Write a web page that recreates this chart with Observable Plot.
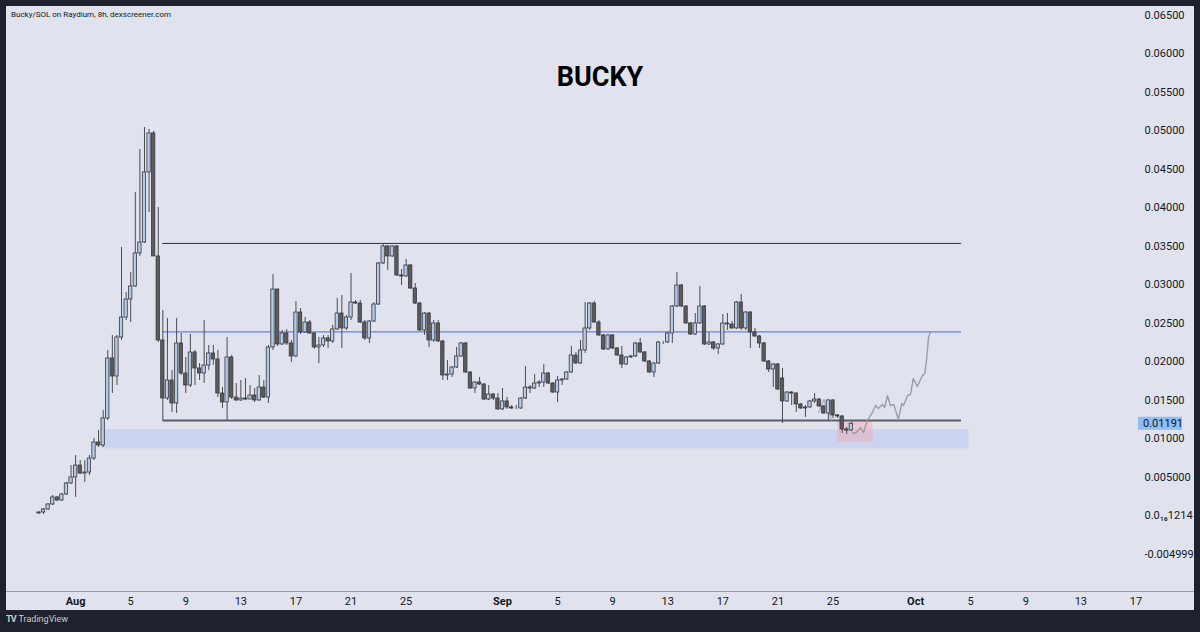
<!DOCTYPE html>
<html><head><meta charset="utf-8">
<script src="https://cdn.jsdelivr.net/npm/d3@7"></script>
<script src="https://cdn.jsdelivr.net/npm/@observablehq/plot@0.6"></script>
<style>
html,body{margin:0;padding:0;background:#1e222d;width:1200px;height:632px;overflow:hidden;font-family:Roboto,"Liberation Sans",Arial,sans-serif;}
#panel{position:absolute;left:6px;top:6px;width:1188px;height:604px;background:#e0e3ee;}
#chart{position:absolute;left:0;top:0;}
#src{position:absolute;left:11px;top:11px;font-size:8px;line-height:1;color:#131722;white-space:nowrap;}
#title{position:absolute;left:6px;width:1188px;top:64px;text-align:center;font-size:27px;line-height:1;font-weight:bold;color:#000;}
#tv{position:absolute;left:6px;top:615px;font-size:9px;line-height:1;color:#c9ccd4;white-space:nowrap;}
#tv b{letter-spacing:-1px;margin-right:3px;}
</style></head><body>
<div id="panel"><div id="chart"></div></div>
<div id="src">Bucky/SOL on Raydium, 8h, dexscreener.com</div>
<div id="title">BUCKY</div>
<div id="tv"><b>TV</b>TradingView</div>
<script>
// Prices below are in thousandths of SOL (e.g. 11.91 = 0.01191)
const PRICE_UNIT = 0.001;
const firstCandle = "2024-07-29T08:00:00Z";
const candleHours = 8;

const open = [0.26,0.39,0.78,1.43,2.34,1.95,2.73,4.16,4.94,6.49,
5.45,5.58,7.40,9.48,9.09,12.60,20.39,18.05,23.12,25.71,
28.05,29.74,34.03,35.45,44.55,49.61,33.64,22.73,15.19,17.53,
14.55,22.34,18.44,16.88,21.17,19.09,18.44,19.48,21.04,20.26,
15.84,14.68,20.52,15.32,14.94,15.19,15.06,15.58,14.94,16.62,
15.32,21.82,29.35,22.21,23.64,22.34,20.65,26.36,23.77,25.06,
23.64,21.82,22.08,22.99,22.60,24.16,26.23,24.29,25.71,27.66,
27.53,25.06,22.99,25.19,27.40,32.73,34.94,33.64,34.94,31.17,
31.04,32.47,29.48,27.53,24.03,26.23,22.73,24.94,22.60,18.18,
18.31,19.22,20.65,22.34,18.57,16.49,17.27,17.01,15.06,15.71,
15.19,13.77,14.81,14.03,13.90,13.90,15.19,16.62,16.49,17.14,
17.27,18.44,17.14,15.97,17.53,17.66,18.57,20.78,19.74,21.43,
24.29,27.53,25.06,23.38,21.56,23.38,21.69,20.78,19.61,20.52,
20.65,22.34,21.17,20.00,18.57,19.74,22.47,22.47,23.64,27.14,
29.87,27.14,24.94,23.51,24.94,27.14,22.21,22.47,21.69,22.21,
24.94,24.81,24.29,27.66,24.29,26.36,23.77,23.25,22.34,20.00,
18.96,19.61,17.79,14.81,15.97,15.84,14.42,13.90,14.03,14.81,
15.06,14.16,13.25,14.94,12.99,12.86,11.17,11.04];

const high = [0.52,0.91,1.56,2.60,2.47,2.86,4.29,6.49,7.79,7.14,
7.14,7.79,10.00,11.04,13.64,21.43,23.38,23.38,34.81,28.96,
31.56,41.95,47.53,50.39,50.13,49.87,40.00,26.62,25.58,18.83,
25.58,23.64,20.52,23.51,21.43,19.74,25.32,22.08,22.08,21.43,
16.62,23.12,20.78,17.14,17.53,17.79,16.88,16.49,18.18,17.53,
22.08,31.30,29.35,24.03,24.16,22.73,27.79,26.88,25.71,25.32,
23.77,23.12,23.38,23.38,24.68,28.18,28.57,25.97,31.43,27.92,
27.92,25.32,25.32,27.66,32.86,35.32,35.06,35.06,35.06,31.95,
33.25,32.60,30.13,27.66,26.36,26.36,25.32,25.32,22.73,20.13,
19.35,21.82,22.47,22.47,18.70,17.40,17.92,17.14,16.88,15.84,
15.84,16.49,15.32,14.29,14.29,15.32,19.35,16.88,18.31,17.53,
19.61,18.57,17.27,18.05,17.79,18.70,21.95,21.17,22.73,27.66,
27.66,27.79,25.32,23.51,23.51,23.51,21.82,21.95,20.65,20.78,
22.47,22.99,21.30,20.13,19.87,22.60,22.60,23.77,27.27,31.56,
30.00,27.27,25.06,26.23,29.74,27.27,23.77,22.60,22.34,26.10,
26.23,25.19,27.79,28.70,26.49,26.49,24.29,23.38,22.47,20.13,
19.74,19.74,19.09,16.10,16.10,15.97,14.55,14.29,14.94,15.84,
15.19,14.29,15.06,15.06,13.12,12.99,11.43,12.08];

const low = [0.13,0.13,0.65,1.30,1.82,1.82,2.60,4.03,2.34,5.32,
4.29,5.19,7.14,8.83,8.83,12.34,15.84,16.88,22.73,25.32,
25.06,29.61,33.64,35.32,39.35,33.64,22.47,12.34,14.94,13.38,
13.25,18.18,15.84,16.62,16.88,17.53,17.14,18.83,19.48,15.32,
13.90,12.34,15.06,14.81,14.81,14.94,15.06,14.68,14.81,15.19,
14.55,21.43,21.95,22.08,22.08,19.87,20.52,23.51,23.64,23.51,
21.56,19.74,21.82,21.69,22.34,24.03,21.69,24.03,25.32,27.40,
24.94,22.73,22.34,25.06,27.27,32.60,31.82,33.51,31.04,29.87,
30.91,29.35,27.40,23.90,23.38,21.82,22.47,22.47,17.53,17.53,
17.92,19.09,20.52,18.44,16.36,15.84,16.88,14.94,14.94,14.94,
13.64,13.64,13.77,13.77,13.77,13.77,15.06,15.84,16.36,16.62,
16.62,17.01,15.84,14.68,16.88,17.53,18.44,19.61,19.61,21.04,
24.03,24.94,23.25,21.43,21.43,21.56,20.65,19.09,19.48,20.39,
20.52,21.04,19.87,18.44,17.92,19.61,22.21,22.34,22.34,27.01,
27.01,24.81,23.38,23.38,24.81,22.08,22.08,21.43,20.91,22.08,
24.03,24.16,24.16,24.03,24.03,21.69,23.12,21.69,19.87,18.57,
16.62,16.23,11.95,14.68,14.29,13.38,13.77,12.73,13.90,14.55,
14.03,13.12,12.34,12.60,12.60,10.65,10.52,10.91];

const close = [0.39,0.78,1.43,2.34,1.95,2.73,4.16,4.94,6.49,5.45,
5.58,7.40,9.48,9.09,12.60,20.39,18.05,23.12,25.71,28.05,
29.74,34.03,35.45,44.55,49.61,33.64,22.73,15.19,17.53,14.55,
22.34,18.44,16.88,21.17,19.09,18.44,19.48,21.04,20.26,15.84,
14.68,20.52,15.32,14.94,15.19,15.06,15.58,14.94,16.62,15.32,
21.82,29.35,22.21,23.64,22.34,20.65,26.36,23.77,25.06,23.64,
21.82,22.08,22.99,22.60,24.16,26.23,24.29,25.71,27.66,27.53,
25.06,22.99,25.19,27.40,32.73,34.94,33.64,34.94,31.17,31.04,
32.47,29.48,27.53,24.03,26.23,22.73,24.94,22.60,18.18,18.31,
19.22,20.65,22.34,18.57,16.49,17.27,17.01,15.06,15.71,15.19,
13.77,14.81,14.03,13.90,13.90,15.19,16.62,16.49,17.14,17.27,
18.44,17.14,15.97,17.53,17.66,18.57,20.78,19.74,21.43,24.29,
27.53,25.06,23.38,21.56,23.38,21.69,20.78,19.61,20.52,20.65,
22.34,21.17,20.00,18.57,19.74,22.47,22.47,23.64,27.14,29.87,
27.14,24.94,23.51,24.94,27.14,22.21,22.47,21.69,22.21,24.94,
24.81,24.29,27.66,24.29,26.36,23.77,23.25,22.34,20.00,18.96,
19.61,16.36,14.81,15.97,15.84,14.42,13.90,14.03,14.81,15.06,
14.16,13.25,14.94,12.99,12.86,11.17,11.04,11.91];

// Drawn levels and zones
const resistance = 0.03533;
const midLevel = 0.02385;
const support = 0.01234;
const levelStart = "2024-08-07T08:00:00Z";
const levelEnd = "2024-10-04T08:00:00Z";
const demandZone = {start: "2024-08-02T22:00:00Z", end: "2024-10-04T21:00:00Z", low: 0.00866, high: 0.01113};
const buyZone = {start: "2024-09-25T08:30:00Z", end: "2024-09-27T22:00:00Z", low: 0.00952, high: 0.01234};

// Hand-drawn projection path
const projTime = ["2024-09-26T10:00Z","2024-09-26T15:00Z","2024-09-27T00:00Z","2024-09-27T05:00Z","2024-09-27T12:00Z","2024-09-27T21:00Z","2024-09-28T02:00Z","2024-09-28T07:00Z","2024-09-28T14:00Z","2024-09-28T18:00Z","2024-09-28T23:00Z","2024-09-29T04:00Z","2024-09-29T10:00Z","2024-09-29T18:00Z","2024-09-30T00:00Z","2024-09-30T03:00Z","2024-09-30T10:00Z","2024-09-30T15:00Z","2024-09-30T20:00Z","2024-10-01T03:00Z","2024-10-01T12:00Z","2024-10-01T16:00Z","2024-10-01T19:00Z","2024-10-01T22:30Z","2024-10-02T02:00Z"];
const projPrice = [0.01078,0.01065,0.01143,0.01078,0.01234,0.01338,0.01429,0.01390,0.01442,0.01403,0.01558,0.01429,0.01442,0.01247,0.01455,0.01429,0.01558,0.01571,0.01779,0.01675,0.01818,0.01844,0.02013,0.02312,0.02385];
const sketchTime = ["2024-09-23T23:00Z","2024-09-24T08:00Z","2024-09-24T22:00Z"];
const sketchPrice = [0.01338,0.01506,0.01234];

// Axes
const yTicks = [0.065,0.06,0.055,0.05,0.045,0.04,0.035,0.03,0.025,0.02,0.015,0.01,0.005,0,-0.005];
const yLabels = ["0.06500","0.06000","0.05500","0.05000","0.04500","0.04000","0.03500","0.03000","0.02500","0.02000","0.01500","0.01000","0.005000","0.0\u2081\u20861214","-0.004999"];
const dayTicks = ["2024-08-05","2024-08-09","2024-08-13","2024-08-17","2024-08-21","2024-08-25","2024-09-05","2024-09-09","2024-09-13","2024-09-17","2024-09-21","2024-09-25","2024-10-05","2024-10-09","2024-10-13","2024-10-17"];
const monthTicks = ["2024-08-01","2024-09-01","2024-10-01"];
const xDomain = ["2024-07-26T23:30:00Z","2024-10-17T06:15:00Z"];
const yDomain = [-0.00987, 0.06610];

const H = 3600e3;
const t0 = Date.parse(firstCandle);
const candles = close.map((c, i) => ({
  date: new Date(t0 + i * candleHours * H),
  open: open[i] * PRICE_UNIT,
  high: high[i] * PRICE_UNIT,
  low: low[i] * PRICE_UNIT,
  close: c * PRICE_UNIT
}));
const proj = projTime.map((t, i) => ({date: new Date(t), price: projPrice[i]}));
const sketch = sketchTime.map((t, i) => ({date: new Date(t), price: sketchPrice[i]}));
const zones = [
  {...demandZone, fill: "#b9c6ee", op: 0.55},
  {...buyZone, fill: "#f4a7b4", op: 0.45}
].map(z => ({...z, start: new Date(z.start), end: new Date(z.end)}));
const levels = [
  {price: resistance, stroke: "#2b2f3a", w: 1},
  {price: midLevel, stroke: "#5f84dd", w: 1.2},
  {price: support, stroke: "#5b5e66", w: 2}
];

const W = 1188, HT = 604, MR = 55, MB = 19;
const FONT = "Roboto, 'Liberation Sans', Arial, sans-serif";
const chart = Plot.plot({
  width: W, height: HT,
  marginLeft: 0, marginRight: MR, marginTop: 0, marginBottom: MB,
  style: {background: "transparent", fontFamily: FONT, color: "#131722", overflow: "visible"},
  x: {type: "utc", domain: xDomain.map(d => new Date(d))},
  y: {domain: yDomain},
  marks: [
    Plot.rect(zones, {x1: "start", x2: "end", y1: "low", y2: "high", fill: "fill", fillOpacity: "op"}),
    Plot.ruleY(levels, {y: "price", x1: new Date(levelStart), x2: new Date(levelEnd), stroke: "stroke", strokeWidth: "w"}),
    Plot.line(sketch, {x: "date", y: "price", stroke: "#a2a5ad", strokeWidth: 1.1}),
    Plot.line(proj, {x: "date", y: "price", stroke: "#9a9da6", strokeWidth: 1.4}),
    Plot.ruleX(candles, {x: "date", y1: "low", y2: "high", stroke: "#4b4b4e", strokeWidth: 1}),
    Plot.rect(candles, {
      x1: d => new Date(+d.date - 2.9 * H),
      x2: d => new Date(+d.date + 2.9 * H),
      y1: "open", y2: "close",
      fill: d => d.close >= d.open ? "#b6c9e7" : "#5c5c5f",
      stroke: "#36383d", strokeWidth: 0.8
    }),
    Plot.axisY(yTicks, {anchor: "right", tickSize: 0, tickPadding: 5, fontSize: 11, fill: "#131722",
      tickFormat: (d) => yLabels[yTicks.indexOf(d)]}),
    Plot.axisX(dayTicks.map(d => new Date(d + "T00:00:00Z")), {anchor: "bottom", tickSize: 0, tickPadding: 6, fontSize: 11, fill: "#131722",
      tickFormat: d3.utcFormat("%-d")}),
    Plot.axisX(monthTicks.map(d => new Date(d + "T00:00:00Z")), {anchor: "bottom", tickSize: 0, tickPadding: 6, fontSize: 11, fill: "#131722", fontWeight: "bold",
      tickFormat: d3.utcFormat("%b")})
  ]
});
document.getElementById("chart").appendChild(chart);

// axis separator line across the whole panel
const svg = d3.select(chart);
svg.append("line").attr("x1", 0).attr("x2", W).attr("y1", HT - MB + 0.5).attr("y2", HT - MB + 0.5)
  .attr("stroke", "#9a9da6").attr("stroke-width", 1.2);

// last price label on the price axis
const last = candles[candles.length - 1].close;
const yPix = chart.scale("y").apply(last);
const xPix = W - MR;
const g = svg.append("g");
g.append("rect").attr("x", xPix - 1).attr("y", yPix - 6.5).attr("width", 44).attr("height", 13).attr("fill", "#8fbdf4");
g.append("text").attr("x", xPix + 4).attr("y", yPix).attr("dy", "0.35em")
  .attr("text-anchor", "start")
  .attr("font-size", 11).attr("fill", "#131722").attr("font-family", FONT)
  .text(last.toFixed(5));
</script></body></html>
